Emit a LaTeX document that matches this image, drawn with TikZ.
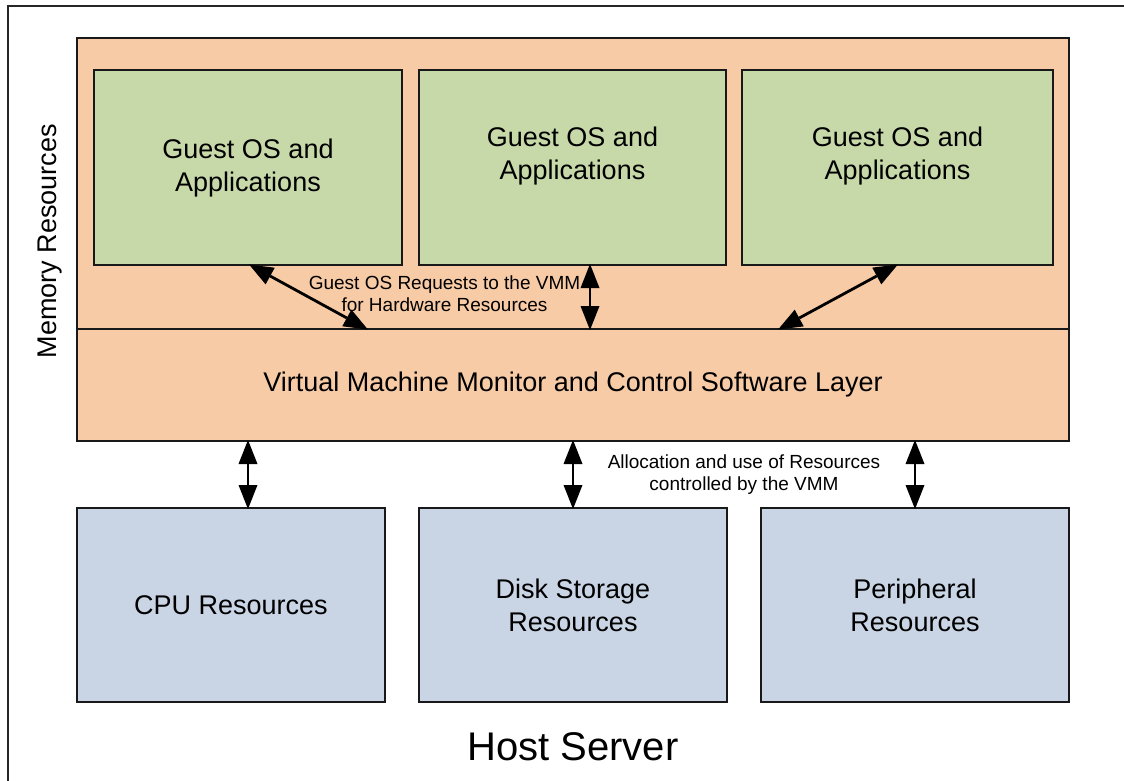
\documentclass[tikz,border=0pt]{standalone}
\usepackage{fontspec}
\setmainfont{Liberation Sans}
\usetikzlibrary{arrows.meta,calc}
\definecolor{orng}{HTML}{F8CBA7}
\definecolor{grn}{HTML}{C8D9A9}
\definecolor{blu}{HTML}{C9D5E5}
\begin{document}
\begin{tikzpicture}[x=1pt,y=-1pt,
  box/.style={draw=black!90,line width=2pt,inner sep=0pt,outer sep=0pt},
  gbox/.style={box,fill=grn},
  bbox/.style={box,fill=blu,align=center,font=\fontsize{27}{33}\selectfont},
  obox/.style={box,fill=orng},
  bigtxt/.style={align=center,font=\fontsize{27}{33}\selectfont},
  smalltxt/.style={align=center,font=\fontsize{19}{22}\selectfont},
  tip/.tip={Triangle[length=24pt,width=19pt,line width=0pt]},
  dbl/.style={line width=2.8pt,tip-tip,shorten <=-1pt,shorten >=-1pt}]
\useasboundingbox (0,0) rectangle (1124,780);
% host frame
\coordinate (fr1) at (1130,6);
\coordinate (fr2) at (8,6);
\coordinate (fr3) at (8,790);
\draw[line width=2pt,black!85] (fr1) -- (fr2) -- (fr3);
% orange hypervisor area
\node[obox,minimum width=992pt,minimum height=291pt] (hv) at (573,183.5) {};
\node[obox,minimum width=992pt,minimum height=112pt] (vmm) at (573,385) {};
\node[bigtxt] (vmmt) at (vmm.center) {Virtual Machine Monitor and Control Software Layer};
\draw[line width=2pt,black!90] (hv.north west) rectangle (vmm.south east);
% guests
\node[gbox,minimum width=308pt,minimum height=195pt] (g1) at (248,167.5) {};
\node[gbox,minimum width=307pt,minimum height=195pt] (g2) at (572.5,167.5) {};
\node[gbox,minimum width=311pt,minimum height=195pt] (g3) at (897.5,167.5) {};
\node[bigtxt] (g1t) at (248,168) {Guest OS and\\Applications};
\node[bigtxt] (g2t) at (572.5,156) {Guest OS and\\Applications};
\node[bigtxt] (g3t) at (897.5,156) {Guest OS and\\Applications};
% resources
\node[bbox,minimum width=308pt,minimum height=194pt] (cpu) at (231,605) {CPU Resources};
\node[bbox,minimum width=308pt,minimum height=194pt] (disk) at (573,605) {Disk Storage\\Resources};
\node[bbox,minimum width=308pt,minimum height=194pt] (per) at (915,605) {Peripheral\\Resources};
% labels
\node[smalltxt] (req) at (444.5,293.5) {Guest OS Requests to the VMM\\for Hardware Resources};
\node[smalltxt] (alloc) at (744,475) {Allocation and use of Resources\\controlled by the VMM};
\node[font=\fontsize{40}{44}\selectfont] (host) at (573,747) {Host Server};
\node[rotate=90,font=\fontsize{27}{30}\selectfont] (mem) at (50,241) {Memory Resources};
% arrows
\draw[dbl] ([xshift=2pt]g1.south) -- ([xshift=-206pt]vmm.north);
\draw[dbl] ([xshift=17.5pt]g2.south) -- ([xshift=17pt]vmm.north);
\draw[dbl] ([xshift=-0.5pt]g3.south) -- ([xshift=206pt]vmm.north);
\draw[dbl] ([xshift=17pt]vmm.south -| cpu.north) -- ([xshift=17pt]cpu.north);
\draw[dbl] (vmm.south -| disk.north) -- (disk.north);
\draw[dbl] (vmm.south -| per.north) -- (per.north);
\end{tikzpicture}
\end{document}
